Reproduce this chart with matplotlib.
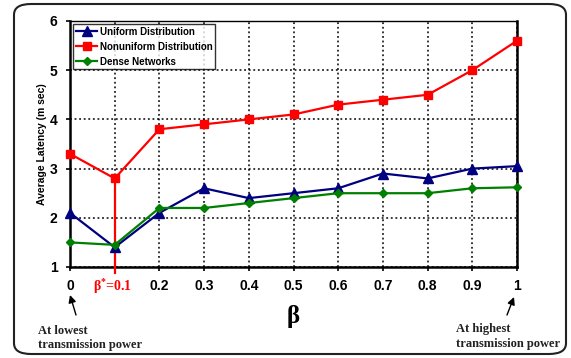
import matplotlib
matplotlib.use("Agg")
import matplotlib.pyplot as plt
from matplotlib.patches import FancyBboxPatch

beta = [0, 0.1, 0.2, 0.3, 0.4, 0.5, 0.6, 0.7, 0.8, 0.9, 1.0]
tick_labels = ["0", "", "0.2", "0.3", "0.4", "0.5", "0.6", "0.7", "0.8", "0.9", "1"]
uniform = [2.1, 1.4, 2.1, 2.6, 2.4, 2.5, 2.6, 2.9, 2.8, 3.0, 3.05]
nonuniform = [3.3, 2.8, 3.8, 3.9, 4.0, 4.1, 4.3, 4.4, 4.5, 5.0, 5.6]
dense = [1.5, 1.45, 2.2, 2.2, 2.3, 2.4, 2.5, 2.5, 2.5, 2.6, 2.62]
beta_star = 0.1
beta_star_val = 2.8

plt.rcParams['font.family'] = ['Liberation Sans', 'DejaVu Sans']
plt.rcParams['mathtext.fontset'] = 'custom'
plt.rcParams['mathtext.rm'] = 'Liberation Serif:bold'
plt.rcParams['mathtext.it'] = 'Liberation Serif:bold'
plt.rcParams['mathtext.bf'] = 'Liberation Serif:bold'

W, H = 571, 358
fig = plt.figure(figsize=(W/100, H/100), dpi=100)
frame = FancyBboxPatch((14/W, 4/H), (566-14)/W, (354-4)/H,
                       boxstyle="round,pad=0,rounding_size=0.03",
                       transform=fig.transFigure, facecolor='none',
                       edgecolor='#222222', linewidth=1.5, zorder=-1)
fig.patches.append(frame)

ax = fig.add_axes([70/W, 1 - 267/H, (517-70)/W, (267-21)/H])
ax.set_zorder(1)
ax.set_xlim(0, 1)
ax.set_ylim(1, 6)

ax.plot(beta, uniform, color='#000080', marker='^', markersize=7, lw=1.6,
        label='Uniform Distribution', zorder=4, clip_on=False)
ax.plot(beta, nonuniform, color='#ff0000', marker='s', markersize=6, lw=1.6,
        label='Nonuniform Distribution', zorder=5, clip_on=False)
ax.plot(beta, dense, color='#008000', marker='D', markersize=4.5, lw=1.6,
        label='Dense Networks', zorder=4, clip_on=False)

ax.plot([beta_star, beta_star], [0.88, beta_star_val], color='#ff0000', lw=1.6,
        clip_on=False, zorder=3)

ax.set_xticks(beta)
ax.set_xticklabels(tick_labels, fontweight='bold', fontsize=10)
ax.set_yticks([1, 2, 3, 4, 5, 6])
ax.set_yticklabels(["1", "2", "3", "4", "5", "6"], fontweight='bold', fontsize=10)
ax.tick_params(direction='out', length=3, width=1.2, pad=6)
ax.grid(True, color='black', linestyle=(0, (1.2, 1.8)), linewidth=1.1)
ax.set_axisbelow(True)
for s in ['left', 'bottom', 'right']:
    ax.spines[s].set_linewidth(1.8)
ax.spines['top'].set_linewidth(1.0)

ax.text(beta_star - 0.005, -0.078, "β$^{*}$=0.1", transform=ax.get_xaxis_transform(),
        ha='center', va='center', color='#ff0000', fontsize=10, fontweight='bold',
        family='Liberation Serif')

ax.set_ylabel("Average Latency (m sec)", fontsize=7.5, fontweight='bold', labelpad=2)
ax.set_xlabel("β", fontsize=18, fontweight='bold', family='Liberation Serif', labelpad=8)

leg = ax.legend(loc='upper left', frameon=True, fancybox=False,
                edgecolor='black', borderpad=0.25, labelspacing=0.5,
                handlelength=2.2, handletextpad=0.3, borderaxespad=0.35,
                prop={'weight': 'bold', 'size': 7})
leg.get_frame().set_linewidth(1.0)

# annotation arrows
ax.annotate("", xy=(70/W, 1 - 295/H), xytext=(76/W, 1 - 315/H),
            xycoords='figure fraction', textcoords='figure fraction',
            arrowprops=dict(arrowstyle='-|>', color='black', lw=1,
                            shrinkA=0, shrinkB=0, mutation_scale=11))
ax.annotate("", xy=(514/W, 1 - 297/H), xytext=(507/W, 1 - 315/H),
            xycoords='figure fraction', textcoords='figure fraction',
            arrowprops=dict(arrowstyle='-|>', color='black', lw=1,
                            shrinkA=0, shrinkB=0, mutation_scale=11))
fig.text(38/W, 1 - 351/H, "At lowest\ntransmission power", fontsize=9,
         fontweight='bold', family='Liberation Serif', ha='left', va='bottom',
         color='#222222', linespacing=1.2)
fig.text(456/W, 1 - 350/H, "At highest\ntransmission power", fontsize=9,
         fontweight='bold', family='Liberation Serif', ha='left', va='bottom',
         color='#222222', linespacing=1.3)

fig.savefig("out.png", dpi=100)
